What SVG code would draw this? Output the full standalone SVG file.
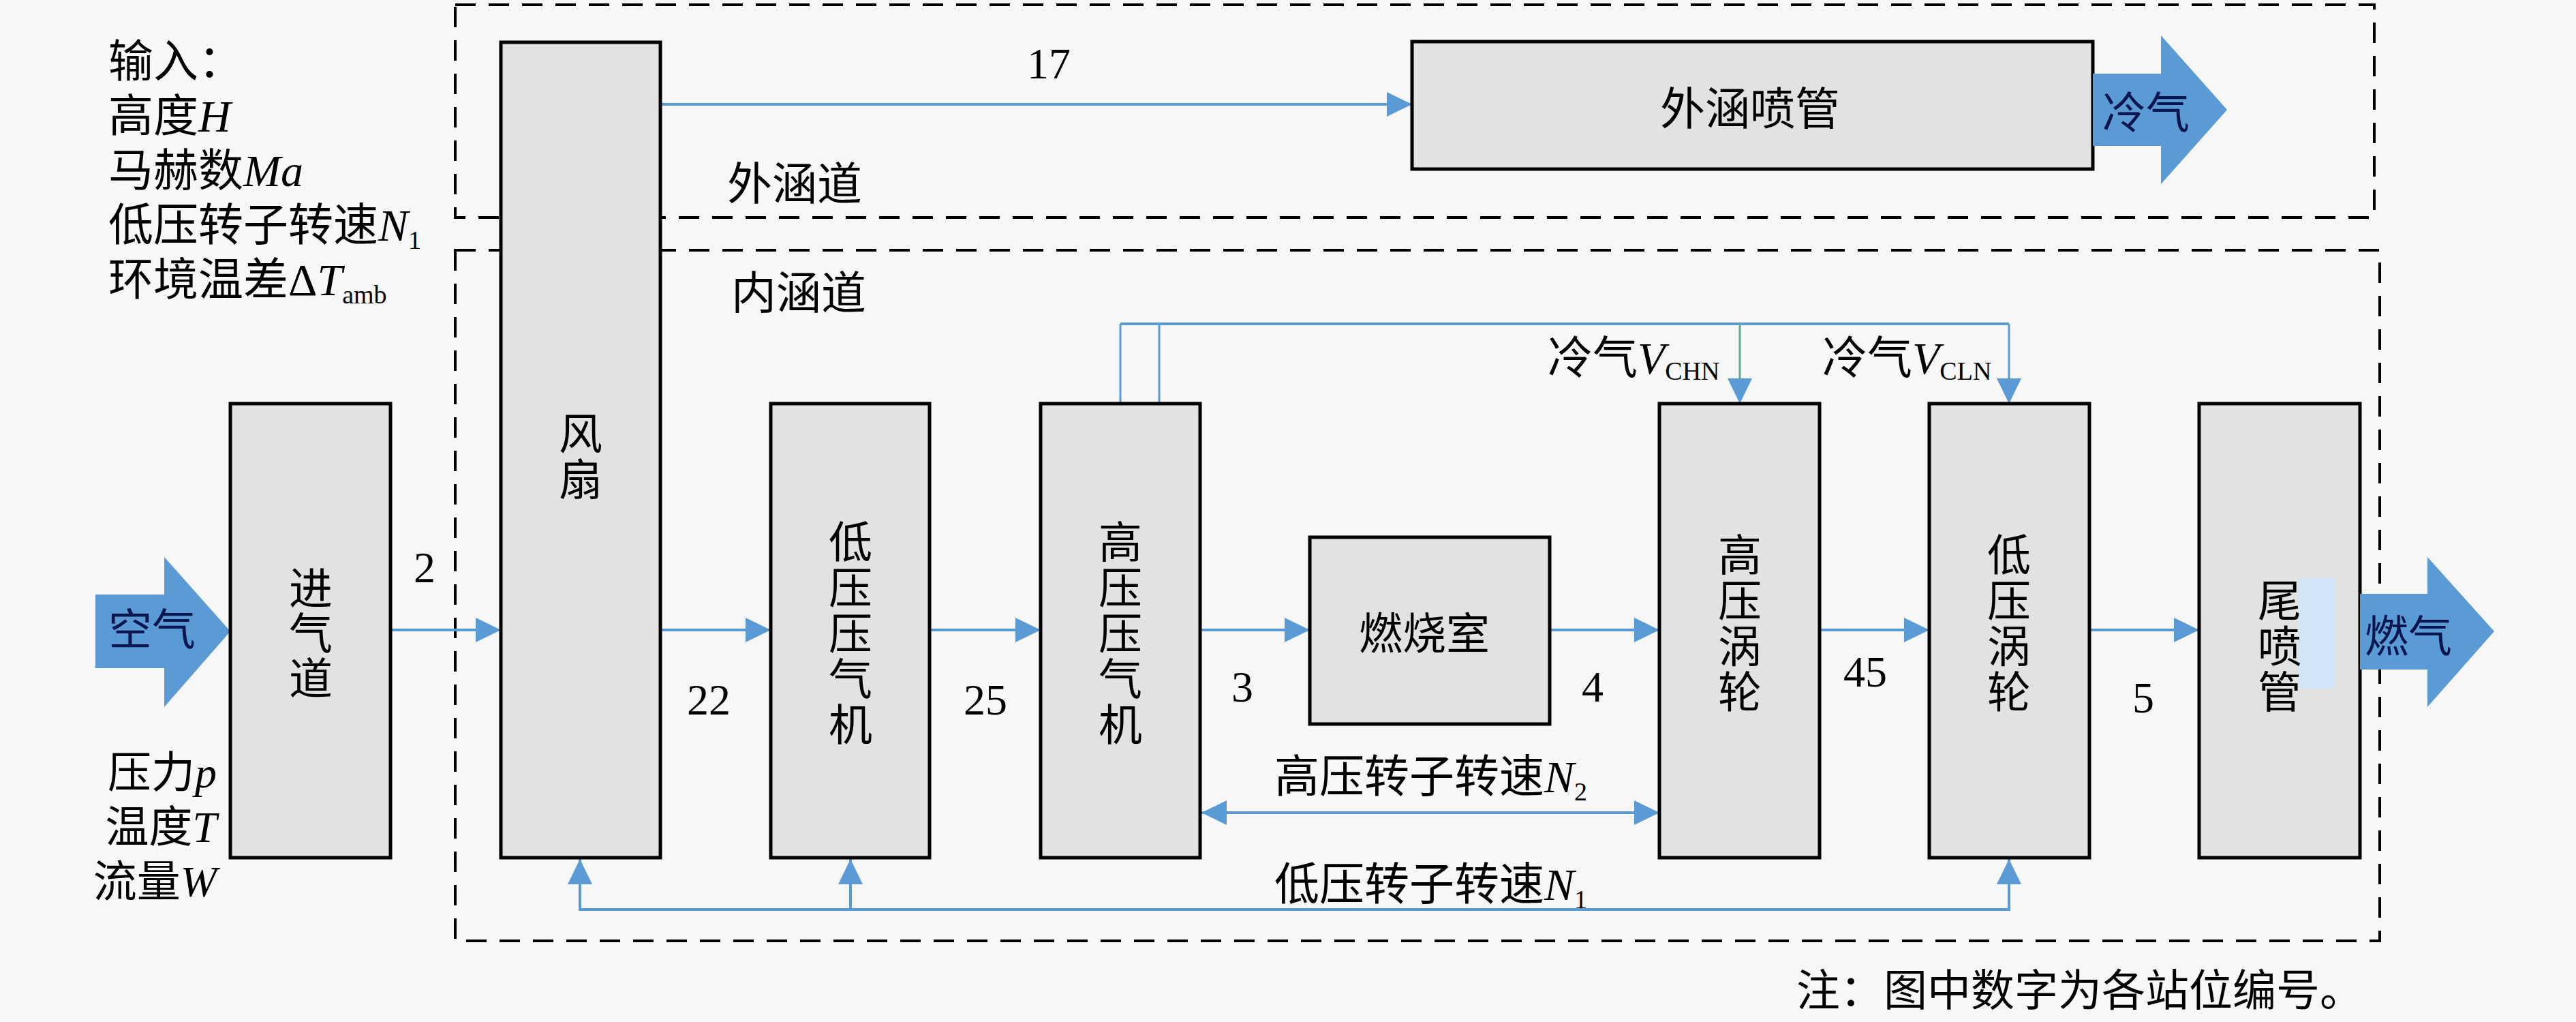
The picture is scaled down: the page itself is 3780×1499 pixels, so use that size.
<svg xmlns="http://www.w3.org/2000/svg" width="3780" height="1499" viewBox="0 0 3780 1499">
<style>
.t{font-family:"Liberation Serif","Noto Sans CJK SC",serif;font-size:64px;fill:#000}
.l{font-size:66px}
.c{text-anchor:middle}
.e{text-anchor:end}
.i{font-style:italic}
.s{font-size:38px}
.box{fill:#e2e2e2;stroke:#000;stroke-width:5}
.dash{fill:none;stroke:#000;stroke-width:4;stroke-dasharray:30 19}
.flow{fill:none;stroke:#5b9bd5;stroke-width:4}
.thin{fill:none;stroke:#5b9bd5;stroke-width:3}
.big{fill:#5b9bd5}
.at{fill:#0a1650}
</style>
<defs>
<marker id="ah" markerUnits="userSpaceOnUse" markerWidth="38" markerHeight="38" refX="37" refY="18" orient="auto-start-reverse" viewBox="0 0 38 36">
<path d="M0,0 L37,18 L0,36 z" fill="#5b9bd5"/>
</marker>
</defs>
<rect width="3780" height="1499" fill="#f7f7f7"/>

<g id="regions">
<rect class="dash" x="668" y="7" width="2816" height="312"/>
<rect class="dash" x="668" y="367" width="2824" height="1013"/>
<text class="t l" x="1067" y="293">外涵道</text>
<text class="t l" x="1073" y="453">内涵道</text>
</g>

<g id="inputs">
<text class="t l" x="159" y="113">输入：</text>
<text class="t l" x="159" y="193">高度<tspan class="i">H</tspan></text>
<text class="t l" x="159" y="273">马赫数<tspan class="i">Ma</tspan></text>
<text class="t l" x="159" y="353">低压转子转速<tspan class="i">N</tspan><tspan class="s" dy="12">1</tspan></text>
<text class="t l" x="159" y="433">环境温差Δ<tspan class="i">T</tspan><tspan class="s" dy="12">amb</tspan></text>
<text class="t e" x="318" y="1155">压力<tspan class="i">p</tspan></text>
<text class="t e" x="318" y="1235">温度<tspan class="i">T</tspan></text>
<text class="t e" x="318" y="1315">流量<tspan class="i">W</tspan></text>
</g>

<g id="connectors">
<path class="flow" d="M573,924 H735" marker-end="url(#ah)"/>
<path class="flow" d="M969,924 H1131" marker-end="url(#ah)"/>
<path class="flow" d="M1364,924 H1527" marker-end="url(#ah)"/>
<path class="flow" d="M1761,924 H1922" marker-end="url(#ah)"/>
<path class="flow" d="M2274,924 H2435" marker-end="url(#ah)"/>
<path class="flow" d="M2670,924 H2831" marker-end="url(#ah)"/>
<path class="flow" d="M3066,924 H3227" marker-end="url(#ah)"/>
<path class="flow" d="M969,153 H2072" marker-end="url(#ah)"/>
<path class="flow" stroke-width="5" d="M1644,475 H2948"/>
<path class="thin" d="M1644,475 V592 M1701,475 V592"/>
<path class="thin" style="stroke:#6aa88a" d="M2553,475 V592" marker-end="url(#ah)"/>
<path class="thin" d="M2948,475 V592" marker-end="url(#ah)"/>
<path class="flow" d="M1763,1192 H2435" marker-start="url(#ah)" marker-end="url(#ah)"/>
<path class="flow" d="M851,1260 V1334 H2948 V1260" marker-start="url(#ah)" marker-end="url(#ah)"/>
<path class="flow" d="M1248,1334 V1260" marker-end="url(#ah)"/>
<text class="t" x="623" y="854" text-anchor="middle">2</text>
<text class="t c" x="1539" y="115">17</text>
<text class="t c" x="1040" y="1048">22</text>
<text class="t c" x="1446" y="1048">25</text>
<text class="t c" x="1823" y="1029">3</text>
<text class="t c" x="2337" y="1029">4</text>
<text class="t c" x="2737" y="1007">45</text>
<text class="t c" x="3145" y="1045">5</text>
<text class="t l" x="2271" y="548">冷气<tspan class="i">V</tspan><tspan class="s" dy="9">CHN</tspan></text>
<text class="t l" x="2674" y="548">冷气<tspan class="i">V</tspan><tspan class="s" dy="9">CLN</tspan></text>
<text class="t l" x="1870" y="1162">高压转子转速<tspan class="i">N</tspan><tspan class="s" dy="12">2</tspan></text>
<text class="t l" x="1870" y="1320">低压转子转速<tspan class="i">N</tspan><tspan class="s" dy="12">1</tspan></text>
</g>

<g id="air-in">
<polygon class="big" points="140,872 241,872 241,817 338,926 241,1037 241,980 140,980"/>
<text class="t at" x="159" y="946">空气</text>
</g>

<g id="inlet">
<rect class="box" x="338" y="592" width="235" height="666"/>
<text class="t c" x="456" y="886"><tspan x="456">进</tspan><tspan x="456" dy="66">气</tspan><tspan x="456" dy="66">道</tspan></text>
</g>

<g id="fan">
<rect class="box" x="735" y="62" width="234" height="1196"/>
<text class="t c" x="852" y="659"><tspan x="852">风</tspan><tspan x="852" dy="67">扇</tspan></text>
</g>

<g id="bypass-nozzle">
<rect class="box" x="2072" y="61" width="999" height="187"/>
<text class="t c l" x="2568" y="183">外涵喷管</text>
</g>

<g id="cold-out">
<polygon class="big" points="3071,108 3171,108 3171,52 3268,161 3171,270 3171,214 3071,214"/>
<text class="t at" x="3085" y="188">冷气</text>
</g>

<g id="lpc">
<rect class="box" x="1131" y="592" width="233" height="666"/>
<text class="t c" x="1248" y="818"><tspan x="1248">低</tspan><tspan x="1248" dy="67">压</tspan><tspan x="1248" dy="67">压</tspan><tspan x="1248" dy="67">气</tspan><tspan x="1248" dy="67">机</tspan></text>
</g>

<g id="hpc">
<rect class="box" x="1527" y="592" width="234" height="666"/>
<text class="t c" x="1644" y="818"><tspan x="1644">高</tspan><tspan x="1644" dy="67">压</tspan><tspan x="1644" dy="67">压</tspan><tspan x="1644" dy="67">气</tspan><tspan x="1644" dy="67">机</tspan></text>
</g>

<g id="combustor">
<rect class="box" x="1922" y="788" width="352" height="274"/>
<text class="t c" x="2090" y="952">燃烧室</text>
</g>

<g id="hpt">
<rect class="box" x="2435" y="592" width="235" height="666"/>
<text class="t c" x="2553" y="837"><tspan x="2553">高</tspan><tspan x="2553" dy="67">压</tspan><tspan x="2553" dy="67">涡</tspan><tspan x="2553" dy="67">轮</tspan></text>
</g>

<g id="lpt">
<rect class="box" x="2831" y="592" width="235" height="666"/>
<text class="t c" x="2948" y="837"><tspan x="2948">低</tspan><tspan x="2948" dy="67">压</tspan><tspan x="2948" dy="67">涡</tspan><tspan x="2948" dy="67">轮</tspan></text>
</g>

<g id="nozzle">
<rect class="box" x="3227" y="592" width="236" height="666"/>
<rect x="3373" y="848" width="52" height="162" fill="#d2e6f8"/>
<text class="t c" x="3345" y="904"><tspan x="3345">尾</tspan><tspan x="3345" dy="67">喷</tspan><tspan x="3345" dy="67">管</tspan></text>
</g>

<g id="gas-out">
<polygon class="big" points="3463,871 3562,871 3562,817 3660,926 3562,1037 3562,982 3463,982"/>
<text class="t at" x="3470" y="956">燃气</text>
</g>

<g id="note">
<text class="t" x="2636" y="1475">注：图中数字为各站位编号。</text>
</g>
</svg>
